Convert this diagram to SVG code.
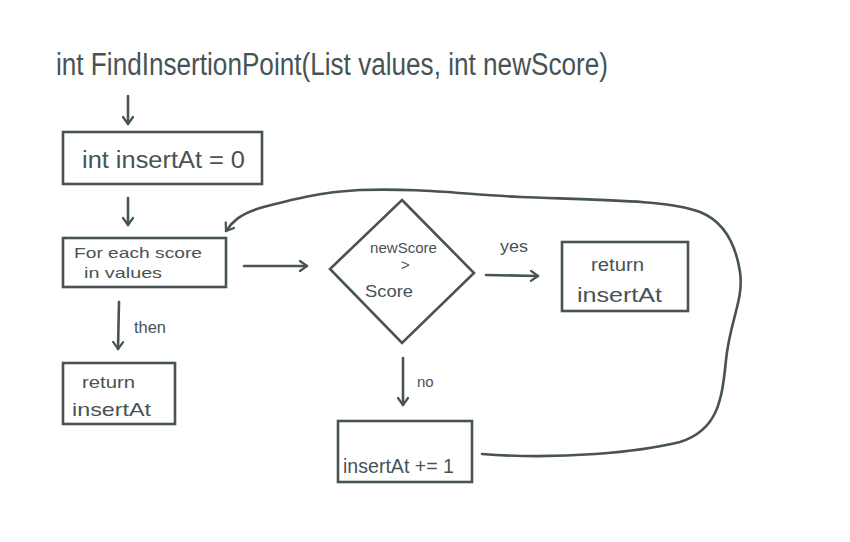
<svg xmlns="http://www.w3.org/2000/svg" width="850" height="542" viewBox="0 0 850 542">
<defs>
<style>
.s{fill:none;stroke:#475354;stroke-width:2.6;stroke-linecap:round;stroke-linejoin:round}
.b{fill:#ffffff;stroke:#475354;stroke-width:2.6}
.t{font-family:"Liberation Sans",Arial,sans-serif;fill:#475354}
</style>
<marker id="ah" viewBox="0 0 12 12" refX="10" refY="6" markerWidth="12" markerHeight="12" markerUnits="userSpaceOnUse" orient="auto">
<polyline points="3,1 10,6 3,11" fill="none" stroke="#475354" stroke-width="2.2" stroke-linecap="round" stroke-linejoin="round"/>
</marker>
</defs>
<rect width="850" height="542" fill="#ffffff"/>
<g id="title">
<text class="t" x="56" y="75" font-size="31" textLength="552" lengthAdjust="spacingAndGlyphs">int FindInsertionPoint(List values, int newScore)</text>
</g>
<g id="connectors">
<path class="s" d="M128,96 L128,124" marker-end="url(#ah)"/>
<path class="s" d="M128,198 L128,225" marker-end="url(#ah)"/>
<path class="s" d="M244,266 L307,266" marker-end="url(#ah)"/>
<path class="s" d="M486,275 L538,276" marker-end="url(#ah)"/>
<path class="s" d="M403,358 L403,405" marker-end="url(#ah)"/>
<path class="s" d="M119,302 L118,349" marker-end="url(#ah)"/>
<path class="s" d="M482,454 C560,460 640,452 680,442 C718,430 722,400 726,360 C730,320 744,300 740,272 C736,246 725,222 700,212 C670,200 600,200 520,197 C460,194 420,188 360,190 C320,192 290,200 260,208 C240,214 232,222 226,231" marker-end="url(#ah)"/>
</g>
<g id="n1">
<rect class="b" x="63" y="132" width="199" height="52"/>
<text class="t" x="82" y="168" font-size="23" textLength="163" lengthAdjust="spacingAndGlyphs">int insertAt = 0</text>
</g>
<g id="n2">
<rect class="b" x="63" y="238" width="163" height="49"/>
<text class="t" x="74" y="258" font-size="15" textLength="128" lengthAdjust="spacingAndGlyphs">For each score</text>
<text class="t" x="84" y="278" font-size="15" textLength="78" lengthAdjust="spacingAndGlyphs">in values</text>
</g>
<g id="n3">
<polygon class="b" points="402,200 474,273 402,343 330,269"/>
<text class="t" x="370" y="253" font-size="15" textLength="67" lengthAdjust="spacingAndGlyphs">newScore</text>
<text class="t" x="401" y="270" font-size="15">&gt;</text>
<text class="t" x="365" y="297" font-size="17" textLength="48" lengthAdjust="spacingAndGlyphs">Score</text>
</g>
<g id="n4">
<rect class="b" x="562" y="242" width="126" height="69"/>
<text class="t" x="591" y="271" font-size="18" textLength="53" lengthAdjust="spacingAndGlyphs">return</text>
<text class="t" x="577" y="302" font-size="20" textLength="85" lengthAdjust="spacingAndGlyphs">insertAt</text>
</g>
<g id="n5">
<rect class="b" x="63" y="363" width="112" height="61"/>
<text class="t" x="82" y="388" font-size="17" textLength="53" lengthAdjust="spacingAndGlyphs">return</text>
<text class="t" x="72" y="416" font-size="19" textLength="79" lengthAdjust="spacingAndGlyphs">insertAt</text>
</g>
<g id="n6">
<rect class="b" x="338" y="421" width="134" height="61"/>
<text class="t" x="343" y="473" font-size="21" textLength="111" lengthAdjust="spacingAndGlyphs">insertAt += 1</text>
</g>
<g id="labels">
<text class="t" x="500" y="252" font-size="16" textLength="28" lengthAdjust="spacingAndGlyphs">yes</text>
<text class="t" x="417" y="387" font-size="15">no</text>
<text class="t" x="134" y="333" font-size="16" textLength="32" lengthAdjust="spacingAndGlyphs">then</text>
</g>
</svg>
